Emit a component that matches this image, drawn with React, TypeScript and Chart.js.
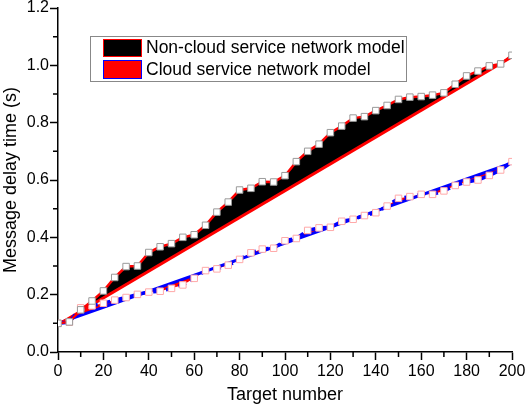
import React, { useEffect, useRef } from "react";
import { Chart, registerables } from "chart.js";

Chart.register(...registerables);

const targetNumbers = [
  0, 5, 10, 15, 20, 25, 30, 35, 40, 45, 50, 55, 60, 65, 70, 75, 80, 85, 90, 95, 100,
  105, 110, 115, 120, 125, 130, 135, 140, 145, 150, 155, 160, 165, 170, 175, 180, 185, 190, 195, 200,
];

const nonCloudDelay = [
  0.1, 0.105, 0.147, 0.178, 0.213, 0.26, 0.298, 0.3, 0.347, 0.367, 0.378, 0.4, 0.409, 0.442, 0.488,
  0.523, 0.565, 0.571, 0.594, 0.593, 0.615, 0.664, 0.7, 0.725, 0.765, 0.788, 0.816, 0.821, 0.842,
  0.86, 0.881, 0.889, 0.891, 0.896, 0.904, 0.934, 0.963, 0.98, 0.998, 1.005, 1.035,
];

const cloudDelay = [
  0.1, 0.104, 0.154, 0.161, 0.17, 0.181, 0.19, 0.201, 0.209, 0.212, 0.222, 0.234, 0.257, 0.284, 0.29,
  0.303, 0.323, 0.346, 0.359, 0.362, 0.388, 0.396, 0.424, 0.433, 0.435, 0.456, 0.463, 0.476, 0.486,
  0.509, 0.536, 0.542, 0.55, 0.55, 0.562, 0.581, 0.593, 0.6, 0.616, 0.635, 0.664,
];

const fitX = [0, 200];
const nonCloudFit = [0.095, 1.03];
const cloudFit = [0.1, 0.66];

const legendLabels = ["Non-cloud service network model", "Cloud service network model"];
const xMinorTicks = [10, 30, 50, 70, 90, 110, 130, 150, 170, 190];
const yMinorTicks = [0.1, 0.3, 0.5, 0.7, 0.9, 1.1];

const FONT = "'Liberation Sans', Arial, sans-serif";

const toPts = (xs: number[], ys: number[]) => xs.map((x, i) => ({ x, y: ys[i] }));

const minorTickPlugin = {
  id: "minorTicks",
  afterDraw(chart: any) {
    const ctx = chart.ctx;
    const xs = chart.scales.x;
    const ys = chart.scales.y;
    const area = chart.chartArea;
    ctx.save();
    ctx.strokeStyle = "#000";
    ctx.lineWidth = 1.5;
    ctx.beginPath();
    xMinorTicks.forEach((v) => {
      const px = xs.getPixelForValue(v);
      ctx.moveTo(px, area.bottom);
      ctx.lineTo(px, area.bottom + 5);
    });
    yMinorTicks.forEach((v) => {
      const py = ys.getPixelForValue(v);
      ctx.moveTo(area.left, py);
      ctx.lineTo(area.left - 5, py);
    });
    ctx.stroke();
    ctx.restore();
  },
};

const legendBoxPlugin = {
  id: "legendBox",
  afterDraw(chart: any) {
    const ctx = chart.ctx;
    ctx.save();
    ctx.strokeStyle = "#888";
    ctx.lineWidth = 1;
    ctx.fillStyle = "#fff";
    ctx.fillRect(90.5, 36.5, 316, 45);
    ctx.strokeRect(90.5, 36.5, 316, 45);
    ctx.fillStyle = "#000";
    ctx.fillRect(103, 39, 39, 18);
    ctx.strokeStyle = "#ff0000";
    ctx.strokeRect(103.5, 39.5, 38, 17);
    ctx.fillStyle = "#ff0000";
    ctx.fillRect(103, 60, 39, 19);
    ctx.strokeStyle = "#0000ff";
    ctx.strokeRect(103.5, 60.5, 38, 18);
    ctx.fillStyle = "#000";
    ctx.font = `17.5px ${FONT}`;
    ctx.textBaseline = "middle";
    ctx.textAlign = "left";
    ctx.fillText(legendLabels[0], 146, 48.5);
    ctx.fillText(legendLabels[1], 146, 70);
    ctx.restore();
  },
};

export default function App() {
  const ref = useRef<HTMLCanvasElement | null>(null);

  useEffect(() => {
    if (!ref.current) return;
    const chart = new Chart(ref.current, {
      type: "line",
      data: {
        datasets: [
          {
            label: legendLabels[0],
            data: toPts(targetNumbers, nonCloudDelay),
            borderColor: "#ff0000",
            borderWidth: 2.5,
            backgroundColor: "#000",
            fill: { target: 2 },
            pointStyle: "rect",
            pointRadius: 4.6,
            pointBorderWidth: 1,
            pointBackgroundColor: "#fff",
            pointBorderColor: "#9a9a9a",
            tension: 0,
          },
          {
            label: legendLabels[1],
            data: toPts(targetNumbers, cloudDelay),
            borderColor: "#0000ff",
            borderWidth: 3.5,
            borderDash: [8, 5],
            backgroundColor: "#ff0000",
            fill: { target: 3 },
            pointStyle: "rect",
            pointRadius: 4.6,
            pointBorderWidth: 1,
            pointBackgroundColor: "#fff",
            pointBorderColor: "#ffa8a8",
            tension: 0,
          },
          {
            label: "nonCloudFit",
            data: toPts(fitX, nonCloudFit),
            borderColor: "#ff0000",
            borderWidth: 3,
            pointRadius: 0,
            fill: false,
          },
          {
            label: "cloudFit",
            data: toPts(fitX, cloudFit),
            borderColor: "#0000ff",
            borderWidth: 3,
            pointRadius: 0,
            fill: false,
          },
        ],
      },
      options: {
        animation: false,
        responsive: false,
        layout: { padding: { left: 0, right: 14, top: 8, bottom: 0 } },
        plugins: {
          legend: { display: false },
          tooltip: { enabled: false },
          filler: { drawTime: "beforeDatasetsDraw" },
        } as any,
        scales: {
          x: {
            type: "linear",
            min: 0,
            max: 200,
            afterFit: (s: any) => {
              s.height = 57;
              s.paddingLeft = 0;
              s.paddingRight = 0;
            },
            ticks: {
              stepSize: 20,
              autoSkip: false,
              maxRotation: 0,
              color: "#000",
              padding: 2,
              font: { family: FONT, size: 16 },
            },
            grid: {
              display: true,
              drawOnChartArea: false,
              drawTicks: true,
              tickLength: 8,
              tickColor: "#000",
              tickWidth: 1.5,
            },
            border: { display: true, color: "#000", width: 1.5 },
            title: {
              display: true,
              text: "Target number",
              color: "#000",
              font: { family: FONT, size: 18 },
              padding: { top: 0, bottom: 3 },
            },
          },
          y: {
            type: "linear",
            min: 0,
            max: 1.2,
            afterFit: (s: any) => {
              s.width = 58;
              s.paddingTop = 0;
              s.paddingBottom = 0;
            },
            ticks: {
              stepSize: 0.2,
              color: "#000",
              padding: 1,
              font: { family: FONT, size: 16 },
              callback: (v: any) => Number(v).toFixed(1),
            },
            grid: {
              display: true,
              drawOnChartArea: false,
              drawTicks: true,
              tickLength: 8,
              tickColor: "#000",
              tickWidth: 1.5,
            },
            border: { display: true, color: "#000", width: 1.5 },
            title: {
              display: true,
              text: "Message delay time (s)",
              color: "#000",
              font: { family: FONT, size: 18 },
              padding: { top: 0, bottom: 0 },
            },
          },
        },
      },
      plugins: [minorTickPlugin, legendBoxPlugin],
    });
    return () => chart.destroy();
  }, []);

  return (
    <div style={{ position: "absolute", left: 0, top: 0, width: 526, height: 409, background: "#fff" }}>
      <canvas ref={ref} width={526} height={409} style={{ display: "block" }} />
    </div>
  );
}
